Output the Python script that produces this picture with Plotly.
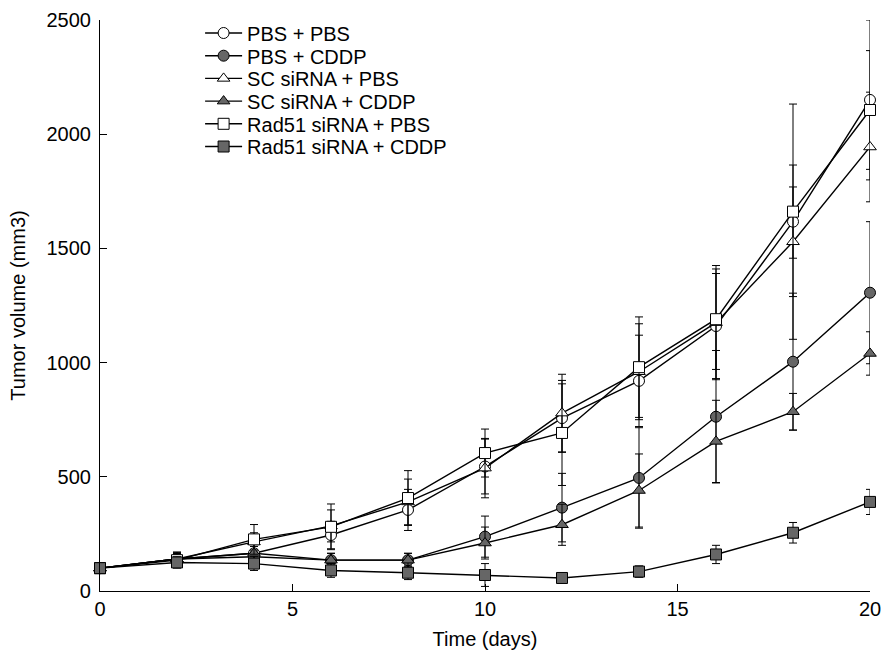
import plotly.graph_objects as go

days = [0, 2, 4, 6, 8, 10, 12, 14, 16, 18, 20]

series_names = ["PBS + PBS", "PBS + CDDP", "SC siRNA + PBS", "SC siRNA + CDDP",
                "Rad51 siRNA + PBS", "Rad51 siRNA + CDDP"]

pbs_pbs = [100, 140, 165, 245, 355, 545, 757, 920, 1160, 1617, 2150]
pbs_pbs_err = [20, 30, 40, 60, 90, 120, 150, 200, 230, 515, 350]

pbs_cddp = [100, 140, 150, 135, 135, 238, 365, 495, 763, 1004, 1306]
pbs_cddp_err = [20, 25, 30, 30, 30, 90, 150, 220, 290, 300, 311]

sc_pbs = [100, 140, 215, 285, 390, 538, 779, 960, 1175, 1529, 1944]
sc_pbs_err = [20, 30, 40, 70, 100, 130, 170, 210, 250, 240, 240]

sc_cddp = [100, 140, 165, 135, 135, 210, 290, 440, 655, 785, 1040]
sc_cddp_err = [20, 25, 30, 30, 30, 70, 90, 160, 180, 80, 95]

rad_pbs = [100, 135, 226, 281, 407, 604, 692, 980, 1190, 1661, 2106]
rad_pbs_err = [20, 30, 65, 100, 120, 105, 230, 220, 220, 204, 260]

rad_cddp = [100, 125, 120, 90, 80, 70, 57, 85, 160, 255, 390]
rad_cddp_err = [20, 25, 30, 30, 30, 50, 20, 25, 40, 45, 55]

values = [pbs_pbs, pbs_cddp, sc_pbs, sc_cddp, rad_pbs, rad_cddp]
errors = [pbs_pbs_err, pbs_cddp_err, sc_pbs_err, sc_cddp_err, rad_pbs_err, rad_cddp_err]
symbols = ["circle", "circle", "triangle-up", "triangle-up", "square", "square"]
fills = ["white", "#666666", "white", "#666666", "white", "#666666"]

FONT = "Liberation Sans, Arial, Helvetica, sans-serif"

# layout geometry (pixels)
W, H = 884, 650
ML, MR, MT, MB = 100, 14, 20, 59
plot_h = H - MT - MB
legend_row0 = 33      # centre of first legend row (px from top)
legend_step = 22.7    # row spacing (px)

fig = go.Figure()
layout_legends = {}
for i, (name, v, e, sym, fc) in enumerate(zip(series_names, values, errors, symbols, fills)):
    lg = "legend" if i == 0 else f"legend{i + 1}"
    fig.add_trace(go.Scatter(
        x=days, y=v, name=name, mode="lines+markers", legend=lg,
        line=dict(color="black", width=1.4),
        marker=dict(symbol=sym, size=11, color=fc, line=dict(color="black", width=1)),
        error_y=dict(type="data", array=e, visible=True, color="black", thickness=1, width=4),
        cliponaxis=False,
    ))
    yc = legend_row0 + legend_step * i
    layout_legends[lg] = dict(
        x=0.13, y=(H - MB - yc) / plot_h, xanchor="left", yanchor="middle",
        bgcolor="rgba(0,0,0,0)", font=dict(size=20, family=FONT, color="black"),
        itemwidth=37, borderwidth=0,
    )

fig.update_layout(
    width=W, height=H,
    margin=dict(l=ML, r=MR, t=MT, b=MB),
    paper_bgcolor="white", plot_bgcolor="white",
    font=dict(family=FONT, size=20, color="black"),
    showlegend=True,
    **layout_legends,
)
fig.update_xaxes(
    range=[0, 20], tickvals=[0, 5, 10, 15, 20], ticks="inside", ticklen=7,
    tickcolor="black", showline=True, linecolor="black", linewidth=1.2,
    showgrid=False, zeroline=False, automargin=False,
    tickfont=dict(size=20),
    title=dict(text="Time (days)", font=dict(size=20)),
)
fig.update_yaxes(
    range=[0, 2500], tickvals=[0, 500, 1000, 1500, 2000, 2500], ticks="inside", ticklen=7,
    tickcolor="black", showline=True, linecolor="black", linewidth=1.2,
    showgrid=False, zeroline=False, automargin=False, ticklabelstandoff=4,
    tickfont=dict(size=20),
    title=dict(text="Tumor volume (mm3)", font=dict(size=20)),
)

fig.write_html(
    "out.html",
    config={"displayModeBar": False},
    post_script="document.body.style.margin='0';document.body.style.padding='0';"
                "document.documentElement.style.overflow='hidden';",
)
